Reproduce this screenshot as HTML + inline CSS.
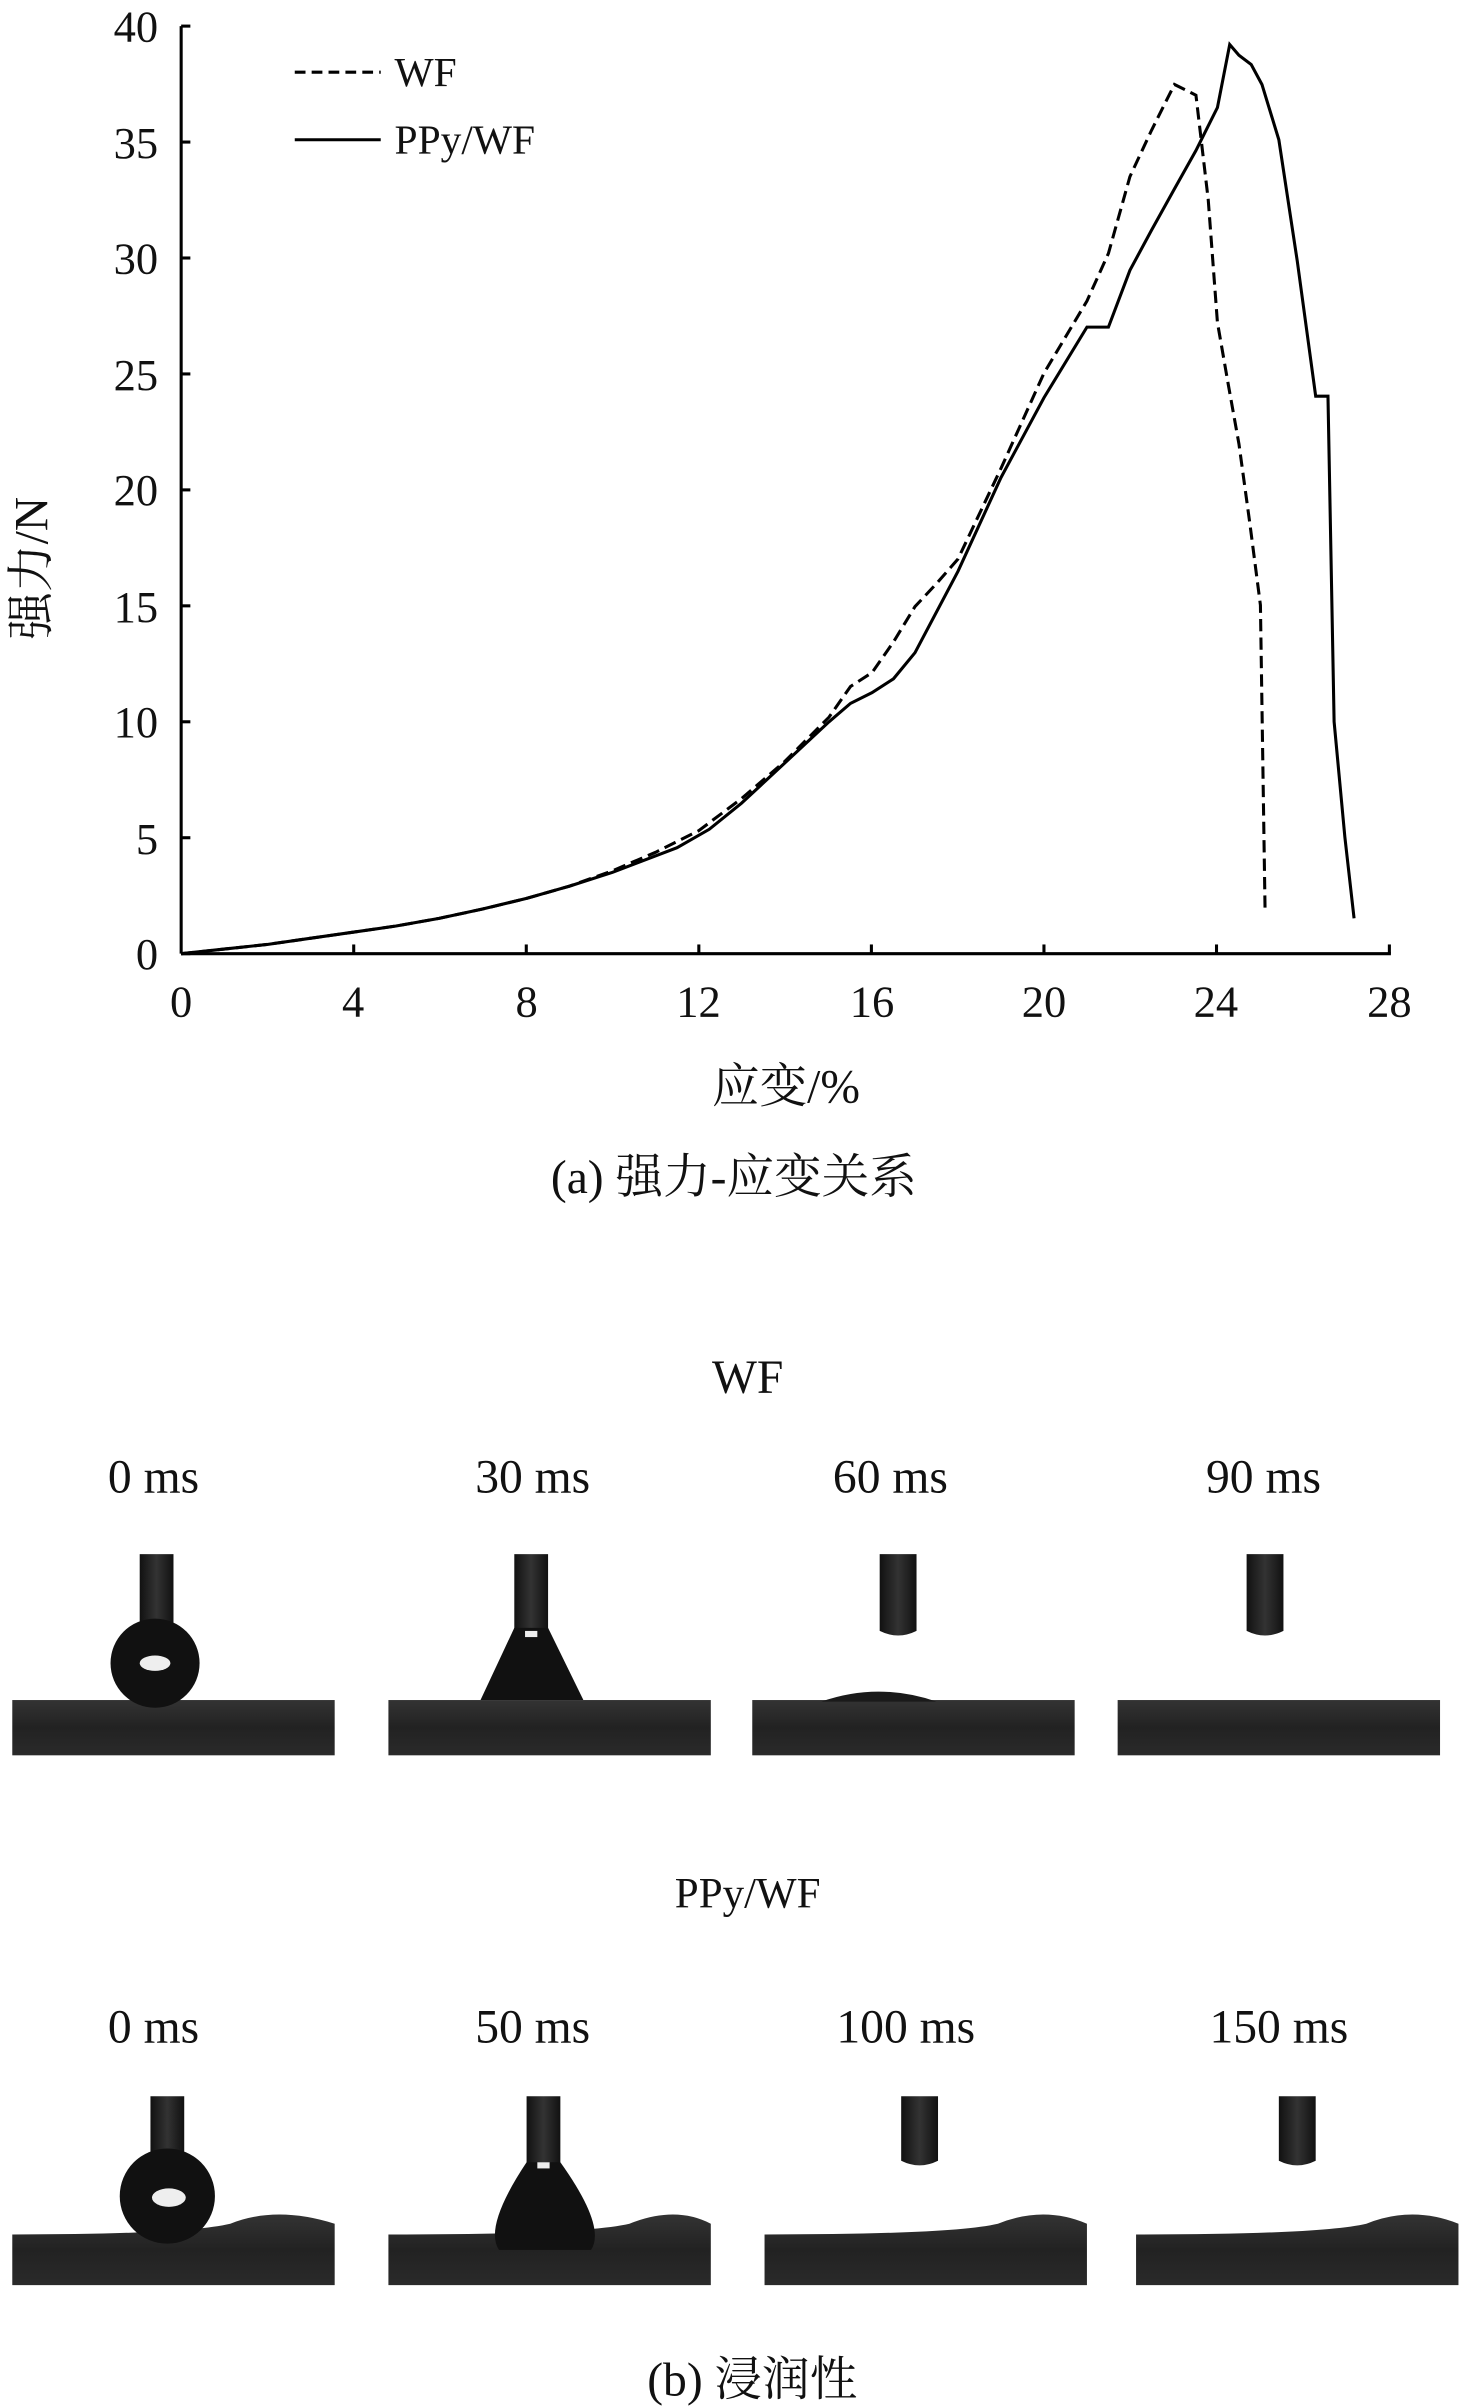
<!DOCTYPE html>
<html><head><meta charset="utf-8"><style>
html,body{margin:0;padding:0;background:#fff;}
svg{display:block;}
text{font-family:"Liberation Serif","Noto Serif CJK SC","Noto Sans CJK SC",serif;fill:#111;}
</style></head><body>
<svg width="1460" height="2408" viewBox="0 0 951 1568" preserveAspectRatio="none" xmlns="http://www.w3.org/2000/svg">
<defs>
<linearGradient id="sub" x1="0" y1="0" x2="0" y2="1">
<stop offset="0" stop-color="#333"/><stop offset="0.5" stop-color="#222"/><stop offset="1" stop-color="#2a2a2a"/>
</linearGradient>
<linearGradient id="needle" x1="0" y1="0" x2="1" y2="0">
<stop offset="0" stop-color="#111"/><stop offset="0.5" stop-color="#333"/><stop offset="1" stop-color="#111"/>
</linearGradient>
</defs>
<g stroke="#000" stroke-width="2" fill="none">
<line x1="118" y1="17" x2="118" y2="621"/>
<line x1="118" y1="621" x2="906" y2="621"/>
</g>
<g stroke="#000" stroke-width="2">
<line x1="118" y1="621" x2="124" y2="621"/><line x1="118" y1="545.5" x2="124" y2="545.5"/><line x1="118" y1="470" x2="124" y2="470"/><line x1="118" y1="394.5" x2="124" y2="394.5"/><line x1="118" y1="319" x2="124" y2="319"/><line x1="118" y1="243.5" x2="124" y2="243.5"/><line x1="118" y1="168" x2="124" y2="168"/><line x1="118" y1="92.5" x2="124" y2="92.5"/><line x1="118" y1="17" x2="124" y2="17"/>
<line x1="230.4" y1="621" x2="230.4" y2="615"/><line x1="342.8" y1="621" x2="342.8" y2="615"/><line x1="455.2" y1="621" x2="455.2" y2="615"/><line x1="567.6" y1="621" x2="567.6" y2="615"/><line x1="680" y1="621" x2="680" y2="615"/><line x1="792.4" y1="621" x2="792.4" y2="615"/><line x1="905" y1="621" x2="905" y2="615"/>
</g>
<g font-size="29" text-anchor="end">
<text x="103" y="631">0</text><text x="103" y="556">5</text><text x="103" y="480">10</text><text x="103" y="405">15</text><text x="103" y="329">20</text><text x="103" y="254">25</text><text x="103" y="178">30</text><text x="103" y="103">35</text><text x="103" y="27">40</text>
</g>
<g font-size="29" text-anchor="middle">
<text x="118" y="662">0</text><text x="230" y="662">4</text><text x="343" y="662">8</text><text x="455" y="662">12</text><text x="568" y="662">16</text><text x="680" y="662">20</text><text x="792" y="662">24</text><text x="905" y="662">28</text>
<text x="512" y="718" font-size="31">应变/%</text>
<text x="478" y="777" font-size="31">(a) 强力-应变关系</text>
</g>
<text font-size="31" text-anchor="middle" transform="translate(31,370) rotate(-90)">强力/N</text>
<line x1="192" y1="47" x2="248" y2="47" stroke="#000" stroke-width="2" stroke-dasharray="7,4"/>
<text x="257" y="56" font-size="27">WF</text>
<line x1="192" y1="91" x2="248" y2="91" stroke="#000" stroke-width="2"/>
<text x="257" y="100" font-size="27">PPy/WF</text>
<polyline fill="none" stroke="#000" stroke-width="2" stroke-dasharray="8,4" points="118,621 146,618 174,615 202,611 230,607 258,603 286,598 314,592 343,585 371,577 399,567 427,555 455,541 483,520 511,496 540,467 554,447 568,438 582,418 596,395 610,380 624,364 652,305 680,243 708,196 722,165 736,115 750,85 765,55 779,62 787,130 793,210 800,250 807,289 814,340 821,394 824,591"/>
<polyline fill="none" stroke="#000" stroke-width="2" points="118,621 146,618 174,615 202,611 230,607 258,603 286,598 314,592 343,585 371,577 399,568 441,552 462,540 483,523 511,497 540,470 554,458 568,451 582,442 596,425 624,372 652,311 680,259 708,213 722,213 736,176 750,150 765,123 779,98 793,70 801,29 807,36 815,42 822,55 833,91 845,170 857,258 865,258 869,470 876,545 882,598"/>
<g font-size="31" text-anchor="middle">
<text x="487" y="907">WF</text>
<text x="100" y="972">0 ms</text><text x="347" y="972">30 ms</text><text x="580" y="972">60 ms</text><text x="823" y="972">90 ms</text>
<text x="487" y="1242" font-size="28">PPy/WF</text>
<text x="100" y="1330">0 ms</text><text x="347" y="1330">50 ms</text><text x="590" y="1330">100 ms</text><text x="833" y="1330">150 ms</text>
<text x="490" y="1560">(b) 浸润性</text>
</g>
<g>
<rect x="8" y="1107" width="210" height="36" fill="url(#sub)"/>
<rect x="253" y="1107" width="210" height="36" fill="url(#sub)"/>
<rect x="490" y="1107" width="210" height="36" fill="url(#sub)"/>
<rect x="728" y="1107" width="210" height="36" fill="url(#sub)"/>
<rect x="91" y="1012" width="22" height="50" fill="url(#needle)"/>
<circle cx="101" cy="1083" r="29" fill="#111"/>
<ellipse cx="101" cy="1083" rx="10" ry="5" fill="#eee"/>
<rect x="335" y="1012" width="22" height="50" fill="url(#needle)"/>
<path d="M335,1060 L357,1060 L380,1107 L313,1107 Z" fill="#111"/>
<rect x="342" y="1062" width="8" height="4" fill="#eee"/>
<path d="M573,1012 h24 v50 q-12,6 -24,0 Z" fill="url(#needle)"/>
<path d="M535,1108 Q572,1095 610,1108 Z" fill="#1a1a1a"/>
<path d="M812,1012 h24 v50 q-12,6 -24,0 Z" fill="url(#needle)"/>
</g>
<g>
<path d="M8,1455 Q120,1455 150,1448 Q180,1436 218,1448 V1488 H8 Z" fill="url(#sub)"/>
<path d="M253,1455 Q380,1455 410,1448 Q440,1436 463,1448 V1488 H253 Z" fill="url(#sub)"/>
<path d="M498,1455 Q620,1455 650,1448 Q680,1436 708,1448 V1488 H498 Z" fill="url(#sub)"/>
<path d="M740,1455 Q860,1455 890,1448 Q920,1436 950,1448 V1488 H740 Z" fill="url(#sub)"/>
<rect x="98" y="1365" width="22" height="45" fill="url(#needle)"/>
<circle cx="109" cy="1430" r="31" fill="#111"/>
<ellipse cx="110" cy="1431" rx="11" ry="6" fill="#eee"/>
<rect x="343" y="1365" width="22" height="45" fill="url(#needle)"/>
<path d="M343,1408 L365,1408 Q395,1450 385,1465 L325,1465 Q315,1450 343,1408 Z" fill="#111"/>
<rect x="350" y="1408" width="8" height="4" fill="#eee"/>
<path d="M587,1365 h24 v42 q-12,6 -24,0 Z" fill="url(#needle)"/>
<path d="M833,1365 h24 v42 q-12,6 -24,0 Z" fill="url(#needle)"/>
</g>
</svg>
</body></html>
